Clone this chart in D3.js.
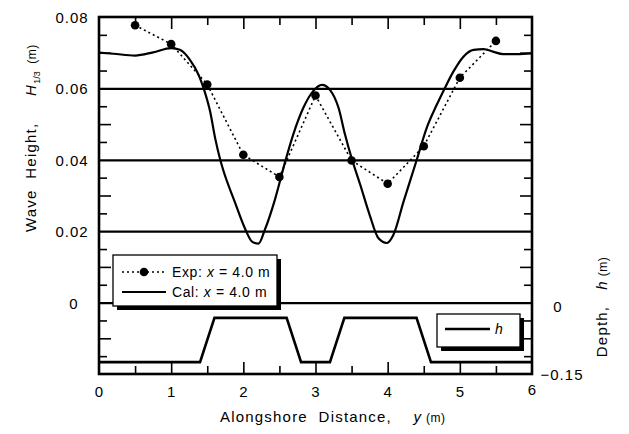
<!DOCTYPE html>
<html>
<head>
<meta charset="utf-8">
<script src="https://cdn.jsdelivr.net/npm/d3@7"></script>
<style>
  body { margin: 0; background: #fff; }
  svg { display: block; font-family: "Liberation Sans", Arial, sans-serif; }
  .tick-label { font-size: 15px; letter-spacing: 1px; fill: #000; }
  .title { font-size: 15px; letter-spacing: 1.2px; white-space: pre; }
  .legend { font-size: 14px; letter-spacing: 0.6px; white-space: pre; }
</style>
</head>
<body>
<div id="chart"></div>
<script>
'use strict';

// measured points (Exp) and calculation (Cal), x = 4.0 m
const expY = [0.5, 1.0, 1.5, 2.0, 2.5, 3.0, 3.5, 4.0, 4.5, 5.0, 5.5];
const expH = [0.0777, 0.0724, 0.0611, 0.0414, 0.0352, 0.0580, 0.0398, 0.0333, 0.0438, 0.0630, 0.0733];

const calY = [0, 0.2, 0.5, 0.75, 1.0, 1.12, 1.26, 1.38, 1.45, 1.54, 1.61, 1.68, 1.72, 1.88, 2.02, 2.12,
  2.21, 2.30, 2.44, 2.58, 2.69, 2.83, 2.97, 3.09, 3.20, 3.32, 3.41, 3.50, 3.62, 3.75, 3.87, 3.99,
  4.08, 4.22, 4.40, 4.54, 4.68, 4.79, 4.91, 5.05, 5.19, 5.33, 5.46, 5.60, 5.79, 6.0];
const calH = [0.0700, 0.0697, 0.0692, 0.0701, 0.0713, 0.0708, 0.0680, 0.0638, 0.0600, 0.0535, 0.0460,
  0.0400, 0.0372, 0.0283, 0.0209, 0.0171, 0.0165, 0.0205, 0.0290, 0.0395, 0.0470, 0.0545, 0.0593,
  0.0610, 0.0596, 0.0545, 0.0470, 0.0405, 0.0330, 0.0246, 0.0181, 0.0167, 0.0190, 0.0283, 0.0398,
  0.0489, 0.0554, 0.0600, 0.0647, 0.0689, 0.0708, 0.0710, 0.0703, 0.0696, 0.0696, 0.0698];

// bottom profile
const depthY = [0, 1.4, 1.6, 2.6, 2.8, 3.2, 3.4, 4.4, 4.6, 6];
const depthH = [-0.125, -0.125, -0.032, -0.032, -0.125, -0.125, -0.032, -0.032, -0.125, -0.125];

const xTicks = [0, 1, 2, 3, 4, 5, 6];
const waveTicks = [0, 0.02, 0.04, 0.06, 0.08];
const depthTicks = [0, -0.15];

const W = 629, H = 434;
const mL = 99, mR = 532, mT = 17, mB = 374;

const svg = d3.select('#chart').append('svg').attr('width', W).attr('height', H);

const x = d3.scaleLinear().domain([0, 6]).range([mL, mR]);
const yW = d3.scaleLinear().domain([-0.02, 0.08]).range([mB, mT]);
const yD = d3.scaleLinear().domain([-0.15, 0]).range([mB, yW(0)]);

// minor / major inside ticks
const minorW = d3.range(-0.015, 0.08, 0.01).map(v => +v.toFixed(3));
const midW = [-0.01, 0.01, 0.03, 0.05, 0.07];
const halfX = [0.5, 1.5, 2.5, 3.5, 4.5, 5.5];
const intX = [1, 2, 3, 4, 5];

const tickAxis = (axis, tr, vals, len) => {
  const g = svg.append('g')
    .attr('transform', tr)
    .call(axis.tickValues(vals).tickSize(-len).tickFormat(''));
  g.select('.domain').remove();
  g.selectAll('line').attr('stroke', '#000').attr('stroke-width', 1.6);
};
tickAxis(d3.axisLeft(yW), `translate(${mL},0)`, minorW, 8);
tickAxis(d3.axisLeft(yW), `translate(${mL},0)`, midW, 12);
tickAxis(d3.axisRight(yW), `translate(${mR},0)`, minorW, 8);
tickAxis(d3.axisRight(yW), `translate(${mR},0)`, midW, 12);
tickAxis(d3.axisTop(x), `translate(0,${mT})`, halfX, 8);
tickAxis(d3.axisTop(x), `translate(0,${mT})`, intX, 12);
tickAxis(d3.axisBottom(x), `translate(0,${mB})`, halfX, 8);
tickAxis(d3.axisBottom(x), `translate(0,${mB})`, intX, 12);

// horizontal grid lines
const grid = svg.append('g')
  .attr('transform', `translate(${mL},0)`)
  .call(d3.axisLeft(yW).tickValues([0, 0.02, 0.04, 0.06]).tickSize(-(mR - mL)).tickFormat(''));
grid.select('.domain').remove();
grid.selectAll('line').attr('stroke', '#000').attr('stroke-width', 2.2);

// tick labels
const lblLeft = svg.append('g')
  .attr('transform', `translate(${mL},0)`)
  .call(d3.axisLeft(yW).tickValues(waveTicks).tickSize(0)
    .tickFormat(d => d === 0 ? '0' : d3.format('.2f')(d)));
lblLeft.select('.domain').remove();
lblLeft.selectAll('text').attr('class', 'tick-label').attr('text-anchor', 'middle')
  .attr('x', d => d === 0 ? -25 : -27).attr('dy', '0.36em');

const lblBottom = svg.append('g')
  .attr('transform', `translate(0,${mB})`)
  .call(d3.axisBottom(x).tickValues(xTicks).tickSize(0).tickPadding(12).tickFormat(d3.format('d')));
lblBottom.select('.domain').remove();
lblBottom.selectAll('text').attr('class', 'tick-label');
lblBottom.selectAll('.tick').filter(d => d === 6).select('text').attr('y', 10);

const lblRight = svg.append('g')
  .attr('transform', `translate(${mR},0)`)
  .call(d3.axisRight(yD).tickValues(depthTicks).tickSize(0)
    .tickFormat(d => d === 0 ? '0' : d3.format('.2f')(d)));
lblRight.select('.domain').remove();
lblRight.selectAll('text').attr('class', 'tick-label').attr('text-anchor', 'middle')
  .attr('x', d => d === 0 ? 26 : 30).attr('dy', d => d === 0 ? '0.62em' : '0.36em');

// bottom profile
svg.append('path')
  .datum(depthY.map((d, i) => [d, depthH[i]]))
  .attr('fill', 'none').attr('stroke', '#000').attr('stroke-width', 2.6)
  .attr('stroke-linejoin', 'miter')
  .attr('d', d3.line().x(d => x(d[0])).y(d => yD(d[1])));

// calculated wave height
svg.append('path')
  .datum(calY.map((d, i) => [d, calH[i]]))
  .attr('fill', 'none').attr('stroke', '#000').attr('stroke-width', 2.2)
  .attr('d', d3.line().curve(d3.curveMonotoneX).x(d => x(d[0])).y(d => yW(d[1])));

// measured wave height
svg.append('path')
  .datum(expY.map((d, i) => [d, expH[i]]))
  .attr('fill', 'none').attr('stroke', '#000').attr('stroke-width', 1.6)
  .attr('stroke-dasharray', '2,3')
  .attr('d', d3.line().x(d => x(d[0])).y(d => yW(d[1])));

svg.append('g').selectAll('circle')
  .data(expY)
  .enter()
  .append('circle')
  .attr('cx', d => x(d))
  .attr('cy', (d, i) => yW(expH[i]))
  .attr('r', 4.3)
  .attr('fill', '#000');

// frame
svg.append('rect')
  .attr('x', mL).attr('y', mT)
  .attr('width', mR - mL).attr('height', mB - mT)
  .attr('fill', 'none').attr('stroke', '#000').attr('stroke-width', 2.6);

// legends
const legendBox = (bx, by, bw, bh) => {
  svg.append('rect').attr('x', bx + 4).attr('y', by + 4).attr('width', bw).attr('height', bh).attr('fill', '#000');
  svg.append('rect').attr('x', bx).attr('y', by).attr('width', bw).attr('height', bh)
    .attr('fill', '#fff').attr('stroke', '#000').attr('stroke-width', 1.3);
};

legendBox(113, 255, 164, 51);
svg.append('line').attr('x1', 122).attr('x2', 166).attr('y1', 272).attr('y2', 272)
  .attr('stroke', '#000').attr('stroke-width', 1.6).attr('stroke-dasharray', '2,3');
svg.append('circle').attr('cx', 144).attr('cy', 272).attr('r', 4.3).attr('fill', '#000');
svg.append('line').attr('x1', 122).attr('x2', 166).attr('y1', 292).attr('y2', 292)
  .attr('stroke', '#000').attr('stroke-width', 2);

const legText = (ty, label) => {
  const t = svg.append('text').attr('class', 'legend').attr('x', 172).attr('y', ty);
  t.append('tspan').text(label + ' ');
  t.append('tspan').attr('font-style', 'italic').text('x');
  t.append('tspan').text(' = 4.0 m');
};
legText(277, 'Exp:');
legText(297, 'Cal:');

legendBox(437, 314, 83, 33);
svg.append('line').attr('x1', 445).attr('x2', 490).attr('y1', 329).attr('y2', 329)
  .attr('stroke', '#000').attr('stroke-width', 2.4);
svg.append('text').attr('class', 'legend').attr('x', 495).attr('y', 334)
  .attr('font-style', 'italic').text('h');

// axis titles
const xt = svg.append('text').attr('class', 'title')
  .attr('x', 220).attr('y', 422).attr('text-anchor', 'start');
xt.append('tspan').text('Alongshore  Distance,    ');
xt.append('tspan').attr('font-style', 'italic').text('y');
xt.append('tspan').attr('font-size', '12px').attr('letter-spacing', '0.5px').text(' (m)');

const yt = svg.append('text').attr('class', 'title')
  .attr('transform', 'translate(36,232) rotate(-90)').attr('text-anchor', 'start');
yt.append('tspan').text('Wave  Height,     ');
yt.append('tspan').attr('font-style', 'italic').text('H');
yt.append('tspan').attr('font-size', '9px').attr('dy', 4).attr('letter-spacing', '0px').text('1/3');
yt.append('tspan').attr('font-size', '12px').attr('dy', -4).attr('letter-spacing', '0.5px').text('  (m)');

const dt = svg.append('text').attr('class', 'title')
  .attr('transform', 'translate(607,307) rotate(-90)').attr('text-anchor', 'middle');
dt.append('tspan').text('Depth,   ');
dt.append('tspan').attr('font-style', 'italic').text('h');
dt.append('tspan').attr('font-size', '12px').attr('letter-spacing', '0.5px').text(' (m)');
</script>
</body>
</html>
